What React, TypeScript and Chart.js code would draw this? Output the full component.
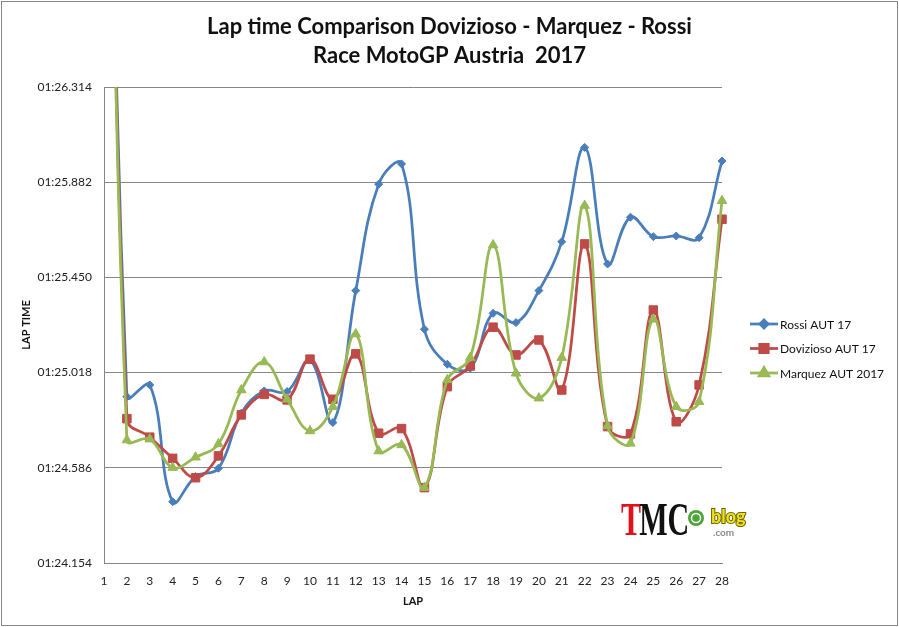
import { useEffect, useRef } from "react";
import { Chart, registerables, type ChartConfiguration, type Plugin } from "chart.js";
import { drawPoint } from "chart.js/helpers";

Chart.register(...registerables);

const lapLabels = [
  "1", "2", "3", "4", "5", "6", "7", "8", "9", "10", "11", "12", "13", "14",
  "15", "16", "17", "18", "19", "20", "21", "22", "23", "24", "25", "26", "27", "28",
];

// lap times in seconds (01:25.018 -> 85.018)
const rossiTimes = [
  89.95, 84.909, 84.962, 84.432, 84.546, 84.584, 84.834, 84.935, 84.932, 85.075,
  84.791, 85.39, 85.873, 85.965, 85.215, 85.056, 85.038, 85.287, 85.245, 85.39,
  85.612, 86.04, 85.511, 85.723, 85.635, 85.638, 85.63, 85.978,
];
const dovizdiosoTimes = [
  89.8, 84.809, 84.725, 84.629, 84.541, 84.64, 84.826, 84.919, 84.894, 85.079,
  84.897, 85.103, 84.743, 84.764, 84.496, 84.954, 85.048, 85.224, 85.098, 85.166,
  84.939, 85.602, 84.773, 84.74, 85.302, 84.795, 84.962, 85.714,
];
const marquezTimes = [
  89.87, 84.712, 84.716, 84.587, 84.634, 84.694, 84.939, 85.066, 84.897, 84.753,
  84.863, 85.193, 84.662, 84.69, 84.496, 84.985, 85.086, 85.597, 85.015, 84.902,
  85.086, 85.776, 84.776, 84.697, 85.26, 84.863, 84.886, 85.798,
];

const yTickValues = [84.154, 84.586, 85.018, 85.45, 85.882, 86.314];

const titleLines = ["Lap time Comparison Dovizioso - Marquez - Rossi", "Race MotoGP Austria  2017"];

const FONT = "Lato, 'Open Sans', sans-serif";
const GRID = "#868686";

function formatLapTime(value: number): string {
  const minutes = Math.floor(value / 60);
  const seconds = (value - minutes * 60).toFixed(3).padStart(6, "0");
  return `${String(minutes).padStart(2, "0")}:${seconds}`;
}

// title centred on the whole picture, frame, legend and the blog logo
const decorations: Plugin<"line"> = {
  id: "decorations",
  afterDraw(chart) {
    const ctx = chart.ctx;
    ctx.save();
    ctx.strokeStyle = GRID;
    ctx.lineWidth = 1;
    ctx.strokeRect(1.5, 1.5, chart.width - 3, chart.height - 3);

    ctx.font = `bold 22px ${FONT}`;
    ctx.fillStyle = "#111";
    ctx.textAlign = "center";
    ctx.textBaseline = "middle";
    titleLines.forEach((line, i) => ctx.fillText(line, chart.width / 2, 27 + i * 29));

    ctx.font = `12px ${FONT}`;
    ctx.textAlign = "left";
    chart.data.datasets.forEach((ds: any, i) => {
      const y = 324 + i * 24.5;
      ctx.strokeStyle = ds.borderColor;
      ctx.lineWidth = ds.borderWidth;
      ctx.beginPath();
      ctx.moveTo(750, y);
      ctx.lineTo(778, y);
      ctx.stroke();
      ctx.fillStyle = ds.borderColor;
      drawPoint(ctx, { pointStyle: ds.pointStyle, radius: ds.pointRadius, borderWidth: 1, rotation: 0 }, 764, y);
      ctx.fillStyle = "#111";
      ctx.fillText(ds.label, 780, y + 1);
    });

    ctx.textBaseline = "alphabetic";
    ctx.save();
    ctx.translate(621, 535);
    ctx.scale(0.64, 1);
    ctx.font = `bold 47px 'Liberation Serif', serif`;
    ctx.fillStyle = "#e3111b";
    ctx.fillText("T", 0, 0);
    const tw = ctx.measureText("T").width;
    ctx.fillStyle = "#111";
    ctx.fillText("MC", tw - 3, 0);
    ctx.restore();
    ctx.beginPath();
    ctx.arc(696, 518, 8, 0, Math.PI * 2);
    ctx.fillStyle = "#4fa33a";
    ctx.fill();
    ctx.beginPath();
    ctx.arc(696, 518, 4.5, 0, Math.PI * 2);
    ctx.strokeStyle = "#fff";
    ctx.lineWidth = 1.5;
    ctx.stroke();
    ctx.font = `bold 18px ${FONT}`;
    ctx.lineWidth = 2;
    ctx.strokeStyle = "#6b6400";
    ctx.strokeText("blog", 711, 523);
    ctx.fillStyle = "#f2e21c";
    ctx.fillText("blog", 711, 523);
    ctx.font = `bold 10px ${FONT}`;
    ctx.fillStyle = "#8a8a8a";
    ctx.fillText(".com", 713, 536);
    ctx.restore();
  },
};

export default function App() {
  const canvasRef = useRef<HTMLCanvasElement | null>(null);

  useEffect(() => {
    document.body.style.margin = "0";
    const canvas = canvasRef.current;
    if (!canvas) return;

    const config: ChartConfiguration<"line"> = {
      type: "line",
      data: {
        labels: lapLabels,
        datasets: [
          {
            label: "Rossi AUT 17",
            data: rossiTimes,
            borderColor: "#4a7ebb",
            backgroundColor: "#4a7ebb",
            pointStyle: "rectRot",
            pointRadius: 4,
            borderWidth: 2.75,
            pointBorderWidth: 1,
            order: 3,
          },
          {
            label: "Dovizioso AUT 17",
            data: dovizdiosoTimes,
            borderColor: "#be4b48",
            backgroundColor: "#be4b48",
            pointStyle: "rect",
            pointRadius: 6,
            borderWidth: 2.75,
            pointBorderWidth: 1,
            order: 2,
          },
          {
            label: "Marquez AUT 2017",
            data: marquezTimes,
            borderColor: "#98b954",
            backgroundColor: "#98b954",
            pointStyle: "triangle",
            pointRadius: 5.5,
            borderWidth: 2.75,
            pointBorderWidth: 1,
            order: 1,
          },
        ],
      },
      options: {
        responsive: true,
        maintainAspectRatio: false,
        animation: false,
        events: [],
        layout: { padding: { top: 87, left: 0, right: 177, bottom: 0 } },
        elements: { line: { tension: 0.4, capBezierPoints: false } },
        scales: {
          x: {
            type: "category",
            offset: false,
            grid: { display: false, drawTicks: false },
            border: { display: true, color: GRID, width: 1 },
            ticks: { color: "#222", padding: 11, maxRotation: 0, autoSkip: false, font: { family: FONT, size: 12 } },
            title: {
              display: true,
              text: "LAP",
              color: "#111",
              font: { family: FONT, size: 11, weight: "bold" },
              padding: { top: 0, bottom: 19 },
            },
            afterFit: (scale) => {
              scale.height = 64;
            },
          },
          y: {
            min: 84.154,
            max: 86.314,
            grid: { color: GRID, drawTicks: false, lineWidth: 1 },
            border: { display: true, color: GRID, width: 1 },
            ticks: {
              color: "#222",
              padding: 12,
              font: { family: FONT, size: 12 },
              callback: (value) => formatLapTime(Number(value)),
            },
            afterBuildTicks: (scale) => {
              scale.ticks = yTickValues.map((value) => ({ value }));
            },
            title: {
              display: true,
              text: "LAP TIME",
              color: "#111",
              font: { family: FONT, size: 11, weight: "bold" },
              padding: { top: 20, bottom: 0 },
            },
            afterFit: (scale) => {
              scale.width = 104;
            },
          },
        },
        plugins: {
          legend: { display: false },
          tooltip: { enabled: false },
        },
      } as any,
      plugins: [decorations],
    };

    const chart = new Chart(canvas, config);
    return () => {
      chart.destroy();
    };
  }, []);

  return (
    <div style={{ position: "relative", width: 899, height: 627 }}>
      <canvas ref={canvasRef} />
    </div>
  );
}
